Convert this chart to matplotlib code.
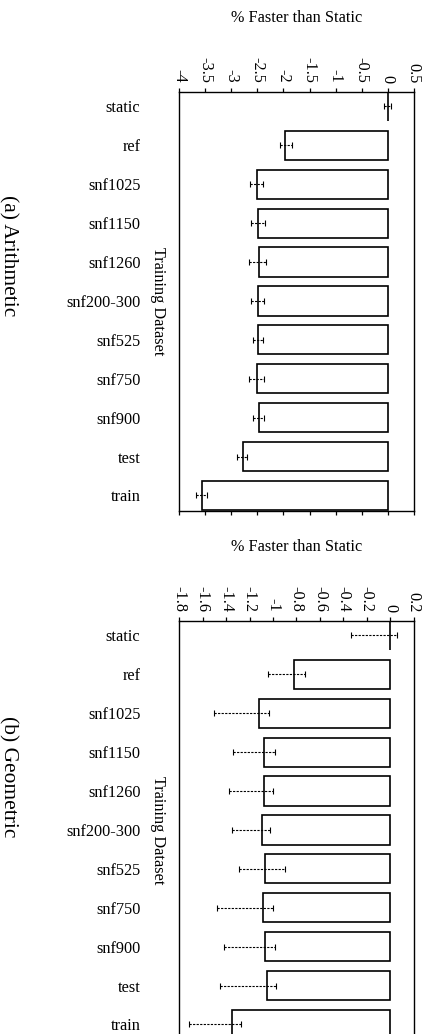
import matplotlib
matplotlib.use("Agg")
import matplotlib.pyplot as plt
import numpy as np
from matplotlib.ticker import FormatStrFormatter

plt.rcParams['font.family'] = ['Liberation Serif', 'DejaVu Serif']
plt.rcParams['axes.unicode_minus'] = False

datasets = ["static", "ref", "snf1025", "snf1150", "snf1260", "snf200-300",
            "snf525", "snf750", "snf900", "test", "train"]

# arithmetic mean speedup (% faster than static) and its interval
arith_mean = [0.0, -1.97, -2.505, -2.486, -2.466, -2.486, -2.486, -2.505, -2.466, -2.775, -3.571]
arith_low = [-0.077, -2.068, -2.646, -2.614, -2.665, -2.614, -2.582, -2.665, -2.582, -2.89, -3.687]
arith_high = [0.064, -1.843, -2.389, -2.357, -2.338, -2.376, -2.402, -2.376, -2.37, -2.697, -3.462]

# geometric mean speedup and its interval
geo_mean = [0.0, -0.824, -1.121, -1.073, -1.078, -1.093, -1.07, -1.087, -1.067, -1.055, -1.352]
geo_low = [-0.331, -1.044, -1.5, -1.344, -1.372, -1.349, -1.287, -1.478, -1.415, -1.455, -1.714]
geo_high = [0.06, -0.725, -1.036, -0.987, -1.001, -1.024, -0.896, -1.001, -0.987, -0.978, -1.272]

arith_ticks = [-4, -3.5, -3, -2.5, -2, -1.5, -1, -0.5, 0, 0.5]
geo_ticks = [-1.8, -1.6, -1.4, -1.2, -1, -0.8, -0.6, -0.4, -0.2, 0, 0.2]

FS = 11.7

fig = plt.figure(figsize=(4.32, 10.34), dpi=100)
ax1 = fig.add_axes([0.415, 0.5058, 0.5426, 0.4055])
ax2 = fig.add_axes([0.415, -0.0058, 0.5426, 0.4055])


def draw_panel(ax, mean, low, high, ticks, xlim):
    y = np.arange(len(datasets))
    mean = np.array(mean)
    err = [mean - np.array(low), np.array(high) - mean]
    ax.barh(y, mean, height=0.75, color="white", edgecolor="black",
            linewidth=1.2, zorder=2)
    eb = ax.errorbar(mean, y, xerr=err, fmt="none", ecolor="black",
                     elinewidth=0.8, capsize=2, capthick=0.8, zorder=3)
    eb[2][0].set_linestyle((0, (2, 1.2)))

    ax.set_xlim(*xlim)
    ax.set_ylim(10.4, -0.38)
    ax.set_yticks(y)
    ax.set_yticklabels(datasets, fontsize=FS)
    ax.tick_params(axis="y", length=0, pad=28)

    ax.set_xticks(ticks)
    ax.xaxis.set_major_formatter(FormatStrFormatter("%g"))
    ax.tick_params(axis="x", top=True, bottom=True, labeltop=True,
                   labelbottom=False, direction="out", length=3.1,
                   width=0.9, pad=3.2, labelsize=FS, labelrotation=-90)
    for s in ax.spines.values():
        s.set_linewidth(1.0)

    ax.xaxis.set_label_position("top")
    ax.set_xlabel("% Faster than Static", fontsize=FS, va="center")
    ax.xaxis.set_label_coords(0.5, 1.176)
    ax.set_ylabel("Training Dataset", fontsize=FS, rotation=-90,
                  ha="center", va="center", rotation_mode="default")
    ax.yaxis.set_label_coords(-0.089, 0.5)


draw_panel(ax1, arith_mean, arith_low, arith_high, arith_ticks, (-4, 0.5))
draw_panel(ax2, geo_mean, geo_low, geo_high, geo_ticks, (-1.8, 0.2))

fig.text(8.5 / 432, 1 - 256 / 1034, "(a) Arithmetic", fontsize=15.4,
         rotation=-90, ha="center", va="center")
fig.text(8.5 / 432, 1 - 777 / 1034, "(b) Geometric", fontsize=15.4,
         rotation=-90, ha="center", va="center")

fig.savefig("out.png", dpi=100)
